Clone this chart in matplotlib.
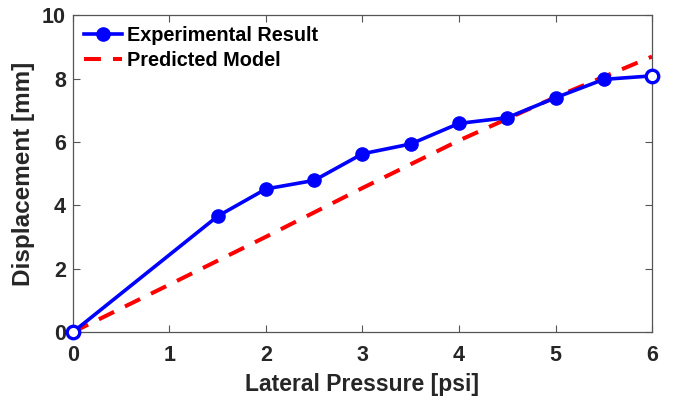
import matplotlib
matplotlib.use("Agg")
import matplotlib.pyplot as plt
import numpy as np

pressure_exp = [0, 1.5, 2, 2.5, 3, 3.5, 4, 4.5, 5, 5.5, 6]
disp_exp = [0, 3.66, 4.52, 4.79, 5.63, 5.94, 6.59, 6.77, 7.40, 7.98, 8.09]

# Predicted model curve
pressure_model = [0, 1, 2, 3, 4, 5, 6]
disp_model = [0, 1.50, 3.01, 4.55, 6.05, 7.42, 8.70]

plt.rcParams['font.family'] = ['Liberation Sans', 'DejaVu Sans']
plt.rcParams['font.weight'] = 'bold'

fig = plt.figure(figsize=(6.75, 4.05), dpi=100)
ax = fig.add_axes([0.108, 0.180, 0.858, 0.782])

ax.plot(pressure_exp, disp_exp, '-', color='#0000ff', linewidth=2.6,
        marker='o', markersize=9.5, markevery=list(range(1, len(pressure_exp) - 1)),
        label='Experimental Result', zorder=3, clip_on=False)
# endpoints drawn as open markers (as in the original export)
ax.plot([pressure_exp[0], pressure_exp[-1]], [disp_exp[0], disp_exp[-1]], 'o',
        color='#0000ff', markersize=9, markerfacecolor='white',
        markeredgewidth=2.4, zorder=4, clip_on=False)
ax.plot(pressure_model, disp_model, '--', color='#ff0000', linewidth=2.9,
        dashes=(4.2, 3.0), label='Predicted Model', zorder=2)

ax.set_xlim(0, 6)
ax.set_ylim(0, 10)
ax.set_xticks(np.arange(0, 7, 1))
ax.set_yticks(np.arange(0, 11, 2))

ax.set_xlabel('Lateral Pressure [psi]', fontsize=16.5, fontweight='bold',
              color='#262626', labelpad=5)
ax.set_ylabel('Displacement [mm]', fontsize=17.5, fontweight='bold',
              color='#262626', labelpad=5)

ax.tick_params(direction='in', top=True, right=True, length=5, width=0.8,
               color='#555555', labelsize=15.5, labelcolor='#262626')
ax.tick_params(axis='x', pad=9)
ax.tick_params(axis='y', pad=5)
for lab in ax.get_xticklabels() + ax.get_yticklabels():
    lab.set_fontweight('bold')
for s in ax.spines.values():
    s.set_color('#555555')
    s.set_linewidth(0.9)

leg = ax.legend(loc='upper left', frameon=False, fontsize=14.3, handlelength=1.9,
                handletextpad=0.25, borderaxespad=0.15, labelspacing=0.3)
for t in leg.get_texts():
    t.set_fontweight('bold')

fig.savefig('out.png', dpi=100)
